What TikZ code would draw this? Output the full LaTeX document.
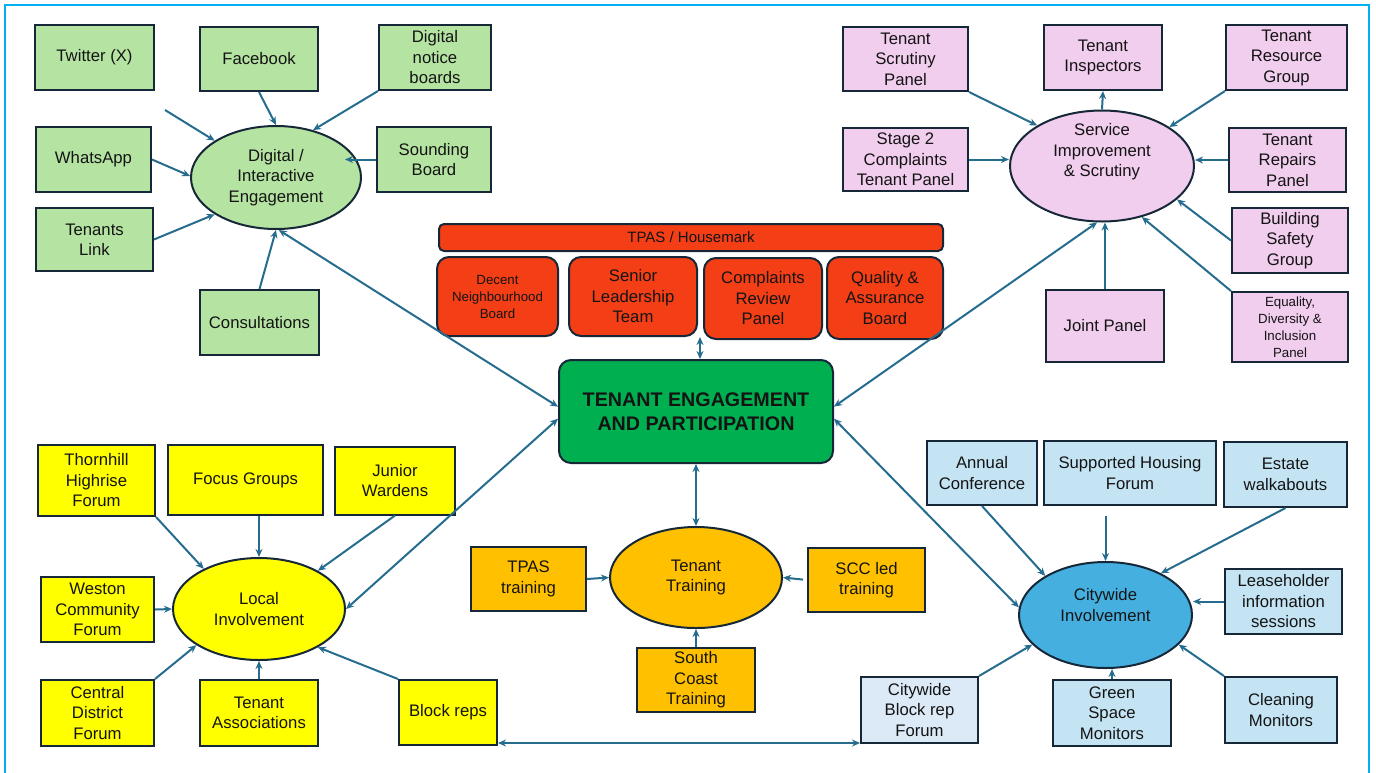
\documentclass[tikz,border=0pt]{standalone}
\usepackage{fontspec}
\setmainfont{Liberation Sans}
\usetikzlibrary{shapes.geometric,arrows.meta,positioning}

\definecolor{framecol}{RGB}{0,176,240}
\definecolor{edgecol}{RGB}{22,40,56}
\definecolor{linkcol}{RGB}{38,108,142}
\definecolor{txtcol}{RGB}{20,20,20}
\definecolor{greenfill}{RGB}{181,228,162}
\definecolor{pinkfill}{RGB}{241,205,238}
\definecolor{redfill}{RGB}{244,62,22}
\definecolor{corefill}{RGB}{0,176,80}
\definecolor{yellowfill}{RGB}{255,255,0}
\definecolor{orangefill}{RGB}{255,192,0}
\definecolor{bluefill}{RGB}{196,228,244}
\definecolor{palefill}{RGB}{220,233,246}
\definecolor{cityfill}{RGB}{69,176,224}

\begin{document}
\begin{tikzpicture}[x=1pt, y=-1pt,
    every node/.style={text=txtcol, font=\fontsize{16.7}{20.5}\selectfont},
    wh/.style 2 args={minimum width=#1pt, minimum height=#2pt},
    box/.style={draw=edgecol, line width=2pt, rectangle, inner sep=0pt, align=center},
    hub/.style={draw=edgecol, line width=2pt, ellipse, inner sep=0pt, align=center},
    board/.style={box, fill=redfill, rounded corners=12pt},
    small/.style={font=\fontsize{13.3}{17}\selectfont},
    >={Stealth[length=8pt, width=7pt]},
    link/.style={->, draw=linkcol, line width=2pt},
    twoway/.style={<->, draw=linkcol, line width=2pt}]

    \useasboundingbox (0,0) rectangle (1376,772);
    \draw[framecol, line width=2pt] (5,800) -- (5,5) -- (1369,5) -- (1369,800);

    % digital / interactive engagement
    \node[hub, fill=greenfill, wh={170}{103}] (digital) at (276,177.5) {Digital /\\Interactive\\Engagement};
    \node[box, fill=greenfill, wh={119}{65}] (twitter) at (94.5,57.5) {Twitter (X)};
    \node[box, fill=greenfill, wh={118}{64}] (facebook) at (259,59) {Facebook};
    \node[box, fill=greenfill, wh={112}{65}] (notice) at (435,57.5) {Digital\\notice\\boards};
    \node[box, fill=greenfill, wh={115}{65}] (whatsapp) at (93.5,159.5) {WhatsApp};
    \node[box, fill=greenfill, wh={114}{65}] (sounding) at (434,159.5) {Sounding\\Board};
    \node[box, fill=greenfill, wh={117}{63}] (tenantslink) at (94.5,239.5) {Tenants\\Link};
    \node[box, fill=greenfill, wh={119}{65}] (consult) at (259.5,322.5) {Consultations};
    \coordinate (twitterfree) at (165,110);

    \draw[link] (twitterfree) -- (digital.149);
    \draw[link] (facebook.south) -- (digital.north);
    \draw[link] (notice.south west) -- (digital.52);
    \draw[link] (whatsapp.east) -- (digital.179);
    \draw[link, shorten >=69pt] (sounding.west) -- (sounding.west -| digital.center);
    \draw[link] (tenantslink.east) -- (digital.211);
    \draw[link] (consult.north) -- (digital.south);

    % service improvement & scrutiny
    \node[hub, fill=pinkfill, wh={184}{111},
          label={[align=center, yshift=14pt]center:Service\\Improvement\\\& Scrutiny}] (service) at (1102,166) {};
    \node[box, fill=pinkfill, wh={125}{64}] (scrutiny) at (905.5,59) {Tenant\\Scrutiny\\Panel};
    \node[box, fill=pinkfill, wh={118}{65}] (inspectors) at (1103,57.5) {Tenant\\Inspectors};
    \node[box, fill=pinkfill, wh={121}{65}] (resource) at (1286.5,57.5) {Tenant\\Resource\\Group};
    \node[box, fill=pinkfill, wh={125}{63}] (stagetwo) at (905.5,159.5) {Stage 2\\Complaints\\Tenant Panel};
    \node[box, fill=pinkfill, wh={117}{64}] (repairs) at (1287.5,160) {Tenant\\Repairs\\Panel};
    \node[box, fill=pinkfill, wh={116}{65}] (safety) at (1290,240.5) {Building\\Safety\\Group};
    \node[box, fill=pinkfill, wh={118}{72}] (joint) at (1105,326) {Joint Panel};
    \node[box, small, fill=pinkfill, wh={116}{70}] (equality) at (1290,327) {Equality,\\Diversity \&\\Inclusion\\Panel};

    \draw[link] (scrutiny.south east) -- (service.148);
    \draw[link] (service.north) -- (inspectors.south);
    \draw[link] (resource.south west) -- (service.30);
    \draw[link] (stagetwo.east) -- (stagetwo.east -| service.west);
    \draw[link] (repairs.west) -- (repairs.west -| service.east);
    \draw[link] (safety.west) -- (service.336);
    \draw[link] (equality.north west) -- (service.308);
    \draw[link] (joint.north) -- (joint.north |- service.south);

    % boards above the core
    \node[box, rounded corners=5pt, fill=redfill, wh={504}{27}, font=\fontsize{15}{18}\selectfont] (housemark) at (691,237.5) {TPAS / Housemark};
    \node[board, small, wh={121}{79}] (decent) at (497.5,296.5) {Decent\\Neighbourhood\\Board};
    \node[board, wh={128}{79}] (senior) at (633,296.5) {Senior\\Leadership\\Team};
    \node[board, wh={118}{81}] (complaints) at (763,298.5) {Complaints\\Review\\Panel};
    \node[board, wh={116}{82}] (quality) at (885,298) {Quality \&\\Assurance\\Board};

    % core
    \node[box, fill=corefill, rounded corners=12pt, wh={274}{103}, font=\fontsize{19.7}{24}\selectfont\bfseries] (core) at (696,411.5) {TENANT ENGAGEMENT\\AND PARTICIPATION};

    \draw[twoway] ([xshift=4pt]core.north) -- ([xshift=4pt]core.north |- senior.south);

    % local involvement
    \node[hub, fill=yellowfill, wh={172}{102}] (local) at (259,609) {Local\\Involvement};
    \node[box, fill=yellowfill, wh={117}{71}] (thornhill) at (96.5,480.5) {Thornhill\\Highrise\\Forum};
    \node[box, fill=yellowfill, wh={155}{70}] (focus) at (245.5,480) {Focus Groups};
    \node[box, fill=yellowfill, wh={120}{68}] (junior) at (395,480.5) {Junior\\Wardens};
    \node[box, fill=yellowfill, wh={113}{65}] (weston) at (97.5,609.5) {Weston\\Community\\Forum};
    \node[box, fill=yellowfill, wh={113}{66}] (central) at (97.5,713) {Central\\District\\Forum};
    \node[box, fill=yellowfill, wh={118}{66}] (assoc) at (259,713) {Tenant\\Associations};
    \node[box, fill=yellowfill, wh={98}{65}] (blockreps) at (448,712.5) {Block reps};

    \draw[link] (thornhill.south east) -- (local.144);
    \draw[link] (local.north |- focus.south) -- (local.north);
    \draw[link] (junior.south) -- (local.33);
    \draw[link] (weston.east) -- (local.west);
    \draw[link] (central.north east) -- (local.210);
    \draw[link] (assoc.north) -- (local.south);
    \draw[link] (blockreps.north west) -- (local.327);

    % tenant training
    \node[hub, fill=orangefill, wh={172}{101}] (training) at (696,577.5) {Tenant\\Training};
    \node[box, fill=orangefill, wh={115}{64}] (tpas) at (528.5,579) {TPAS\\training};
    \node[box, fill=orangefill, wh={117}{64}] (scc) at (866.5,580) {SCC led\\training};
    \node[box, fill=orangefill, wh={118}{64}] (southcoast) at (696,680) {South\\Coast\\Training};

    \draw[link] (tpas.east) -- (training.west);
    \draw[link, shorten <=4pt] (scc.west) -- (training.east);
    \draw[link] (southcoast.north) -- (training.south);

    % citywide involvement
    \node[hub, fill=cityfill, wh={173}{106},
          label={[align=center, yshift=10pt]center:Citywide\\Involvement}] (citywide) at (1105.5,615) {};
    \node[box, fill=bluefill, wh={110}{64}] (annual) at (982,473) {Annual\\Conference};
    \node[box, fill=bluefill, wh={172}{64}] (supported) at (1130,473) {Supported Housing\\Forum};
    \node[box, fill=bluefill, wh={123}{65}] (estate) at (1285.5,474.5) {Estate\\walkabouts};
    \node[box, fill=bluefill, wh={117}{65}] (lease) at (1283.5,601.5) {Leaseholder\\information\\sessions};
    \node[box, fill=palefill, wh={117}{66}] (cwblock) at (919.5,710) {Citywide\\Block rep\\Forum};
    \node[box, fill=bluefill, wh={118}{66}] (greenspace) at (1112,713) {Green\\Space\\Monitors};
    \node[box, fill=bluefill, wh={112}{66}] (cleaning) at (1281,710) {Cleaning\\Monitors};

    \draw[link] (annual.south) -- (citywide.147);
    \draw[link, shorten <=10pt] (citywide.north |- supported.south) -- (citywide.north);
    \draw[link] (estate.south) -- (citywide.37);
    \draw[link] (lease.west) -- (lease.west -| citywide.east);
    \draw[link] (cwblock.north east) -- (citywide.202);
    \draw[link] (greenspace.north) -- (greenspace.north |- citywide.south);
    \draw[link] (cleaning.north west) -- (citywide.338);

    % links to the core
    \draw[twoway] (digital.273) -- (core.178);
    \draw[twoway] (local.east) -- (core.183);
    \draw[twoway] (service.265) -- (core.2);
    \draw[twoway] (citywide.175) -- (core.357);
    \draw[twoway] (core.south) -- (training.north);
    \draw[twoway] ([yshift=3pt]blockreps.south east) -- ([yshift=3pt]blockreps.south east -| cwblock.west);
\end{tikzpicture}
\end{document}
